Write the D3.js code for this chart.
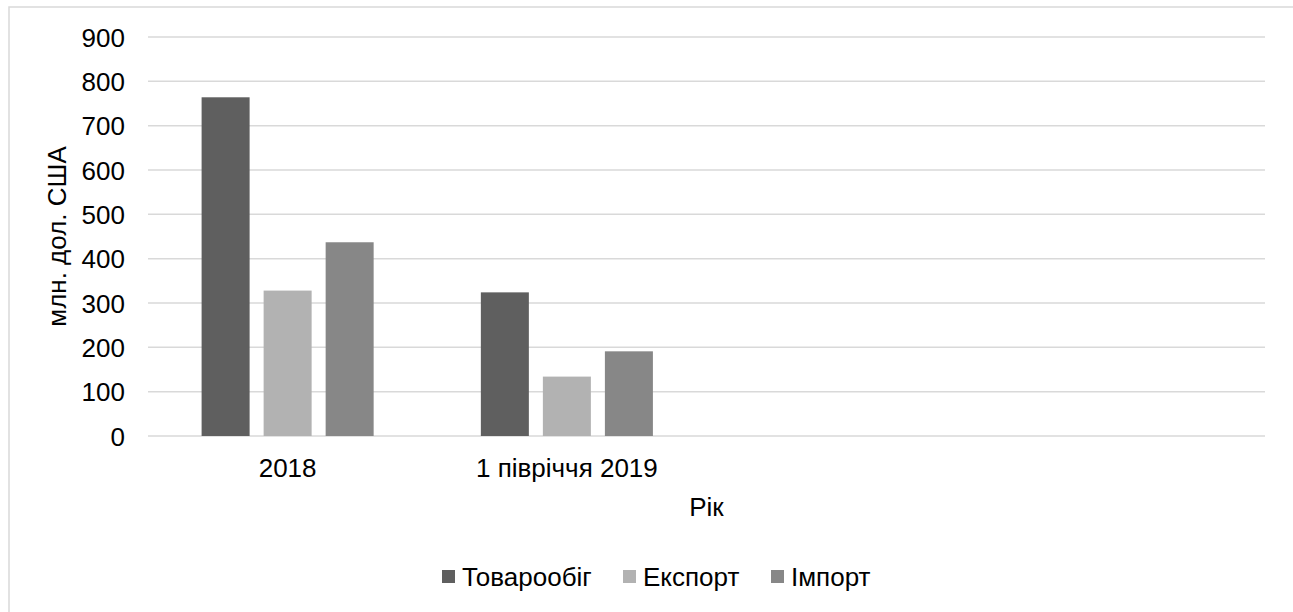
<!DOCTYPE html>
<html>
<head>
<meta charset="utf-8">
<script src="https://cdn.jsdelivr.net/npm/d3@7"></script>
<style>
  html, body { margin: 0; padding: 0; background: #fff; }
  svg { display: block; }
  text { font-family: "Liberation Sans", Arial, sans-serif; fill: #000; }
</style>
</head>
<body>
<svg id="chart" width="1293" height="612"></svg>
<script>
const categories = ["2018", "1 півріччя 2019", "", ""];
const seriesNames = ["Товарообіг", "Експорт", "Імпорт"];
const turnover = [764, 324, null, null];
const exportVals = [328, 134, null, null];
const importVals = [437, 191, null, null];
const yTicks = [0, 100, 200, 300, 400, 500, 600, 700, 800, 900];
const colors = ["#5f5f5f", "#b2b2b2", "#878787"];

const seriesValues = [turnover, exportVals, importVals];
const svg = d3.select("#chart");
const W = 1293, H = 612;
const plot = { left: 148, right: 1265, top: 37, bottom: 436 };
const fontSize = 26;

// Chart border
svg.append("rect")
  .attr("x", 9).attr("y", 7)
  .attr("width", W + 20).attr("height", H + 20)
  .attr("fill", "#fff").attr("stroke", "#d9d9d9").attr("stroke-width", 1.5);

const x0 = d3.scaleBand().domain(d3.range(categories.length)).range([plot.left, plot.right]).padding(0);
const groupInset = 53.6;
const x1 = d3.scaleBand().domain(seriesNames)
  .range([groupInset, x0.bandwidth() - groupInset])
  .paddingInner(0.226).paddingOuter(0);
const y = d3.scaleLinear().domain([0, 900]).range([plot.bottom, plot.top]);

// Gridlines
svg.append("g").selectAll("line").data(yTicks).join("line")
  .attr("x1", plot.left).attr("x2", plot.right)
  .attr("y1", d => y(d)).attr("y2", d => y(d))
  .attr("stroke", "#d9d9d9").attr("stroke-width", 1.5);

// Y axis labels via d3 axis
const yAxis = d3.axisLeft(y).tickValues(yTicks).tickSize(0).tickPadding(0);
const yg = svg.append("g").attr("transform", `translate(${125},0)`).call(yAxis);
yg.select(".domain").remove();
yg.selectAll("text").attr("font-size", fontSize).attr("dy", "0.35em")
  .style("font-family", '"Liberation Sans", Arial, sans-serif').attr("fill", "#000");

// Bars
const data = [];
categories.forEach((c, i) => {
  seriesNames.forEach((s, j) => {
    const v = seriesValues[j][i];
    if (v != null) data.push({ i, s, v, j });
  });
});
svg.append("g").selectAll("rect").data(data).join("rect")
  .attr("x", d => x0(d.i) + x1(d.s))
  .attr("width", x1.bandwidth())
  .attr("y", d => y(d.v))
  .attr("height", d => y(0) - y(d.v))
  .attr("fill", d => colors[d.j]);

// X axis labels
const xAxis = d3.axisBottom(x0).tickFormat(i => categories[i]).tickSize(0).tickPadding(0);
const xg = svg.append("g").attr("transform", `translate(0,${477})`).call(xAxis);
xg.select(".domain").remove();
xg.selectAll("text").attr("font-size", fontSize).attr("dy", 0)
  .style("font-family", '"Liberation Sans", Arial, sans-serif').attr("fill", "#000");

// Axis titles
svg.append("text")
  .attr("transform", `translate(66,${(plot.top + plot.bottom) / 2}) rotate(-90)`)
  .attr("text-anchor", "middle").attr("font-size", fontSize)
  .text("млн. дол. США");
svg.append("text")
  .attr("x", (plot.left + plot.right) / 2).attr("y", 516)
  .attr("text-anchor", "middle").attr("font-size", fontSize)
  .text("Рік");

// Legend
const legendX = [442, 623, 771];
const lg = svg.append("g");
seriesNames.forEach((s, j) => {
  lg.append("rect").attr("x", legendX[j]).attr("y", 570).attr("width", 13).attr("height", 13)
    .attr("fill", colors[j]);
  lg.append("text").attr("x", legendX[j] + 20).attr("y", 586)
    .attr("font-size", fontSize).text(s);
});
</script>
</body>
</html>
